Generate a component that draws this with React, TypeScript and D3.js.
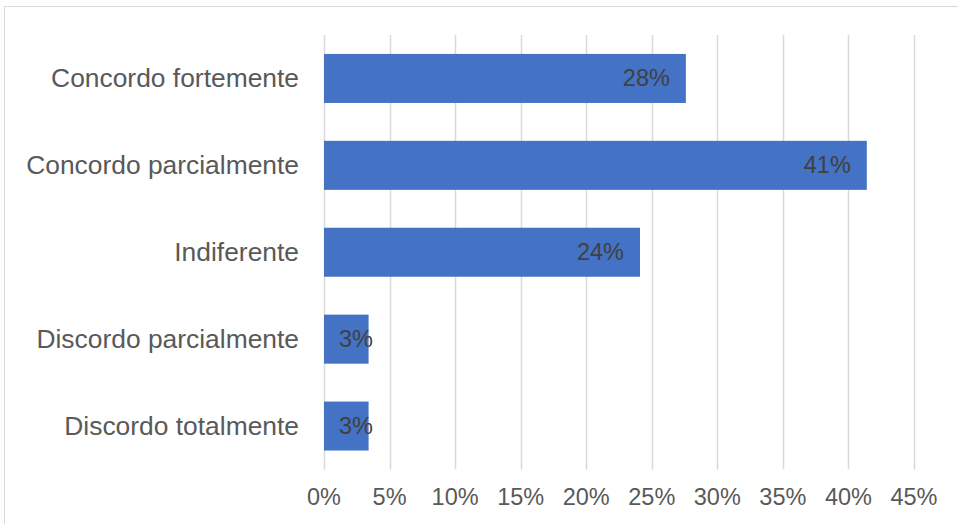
import React from "react";
import * as d3 from "d3";

const categories = [
  "Concordo fortemente",
  "Concordo parcialmente",
  "Indiferente",
  "Discordo parcialmente",
  "Discordo totalmente",
];
const values = [0.276, 0.414, 0.241, 0.034, 0.034];
const valueLabels = ["28%", "41%", "24%", "3%", "3%"];
const xTicks = [0, 0.05, 0.1, 0.15, 0.2, 0.25, 0.3, 0.35, 0.4, 0.45];

const W = 958;
const H = 524;
const FONT = "'Liberation Sans', Arial, sans-serif";

export default function App() {
  const x = d3.scaleLinear().domain([0, 0.45]).range([324, 914]);
  const y = d3
    .scaleBand<string>()
    .domain(categories)
    .range([35, 469.5])
    .paddingInner(0.436)
    .paddingOuter(0.218);
  const fmt = d3.format(".0%");

  const labelW = (s: string) => s.length * 0.556 * 23.5 - (s.includes("%") ? 0.556 * 23.5 - 0.889 * 23.5 : 0);

  return (
    <div style={{ position: "absolute", left: 0, top: 0 }}>
      <svg width={W} height={H} style={{ display: "block" }}>
        <rect x={0} y={0} width={W} height={H} fill="#fff" />
        <rect x={4.5} y={6.5} width={W + 10} height={H + 10} fill="none" stroke="#d9d9d9" strokeWidth={1} />
        {xTicks.map((t) => (
          <line
            key={t}
            x1={Math.round(x(t)) + 0.5}
            x2={Math.round(x(t)) + 0.5}
            y1={35}
            y2={469.5}
            stroke="#d9d9d9"
            strokeWidth={1.5}
          />
        ))}
        {categories.map((c, i) => (
          <rect
            key={c}
            x={x(0)}
            y={y(c)!}
            width={x(values[i]) - x(0)}
            height={y.bandwidth()}
            fill="#4472C4"
          />
        ))}
        {categories.map((c, i) => {
          const end = x(values[i]) - 16;
          const w = labelW(valueLabels[i]);
          const minStart = x(0) + 15;
          const anchorEnd = end - w < minStart ? minStart + w : end;
          return (
            <text
              key={c + "l"}
              x={anchorEnd}
              y={y(c)! + y.bandwidth() / 2}
              textAnchor="end"
              dominantBaseline="central"
              fontFamily={FONT}
              fontSize={23.5}
              fill="#404040"
            >
              {valueLabels[i]}
            </text>
          );
        })}
        {categories.map((c) => (
          <text
            key={c + "c"}
            x={299}
            y={y(c)! + y.bandwidth() / 2}
            textAnchor="end"
            dominantBaseline="central"
            fontFamily={FONT}
            fontSize={26.4}
            fill="#595959"
          >
            {c}
          </text>
        ))}
        {xTicks.map((t) => (
          <text
            key={t + "t"}
            x={x(t)}
            y={497}
            textAnchor="middle"
            dominantBaseline="central"
            fontFamily={FONT}
            fontSize={23.5}
            fill="#595959"
          >
            {fmt(t)}
          </text>
        ))}
      </svg>
    </div>
  );
}
